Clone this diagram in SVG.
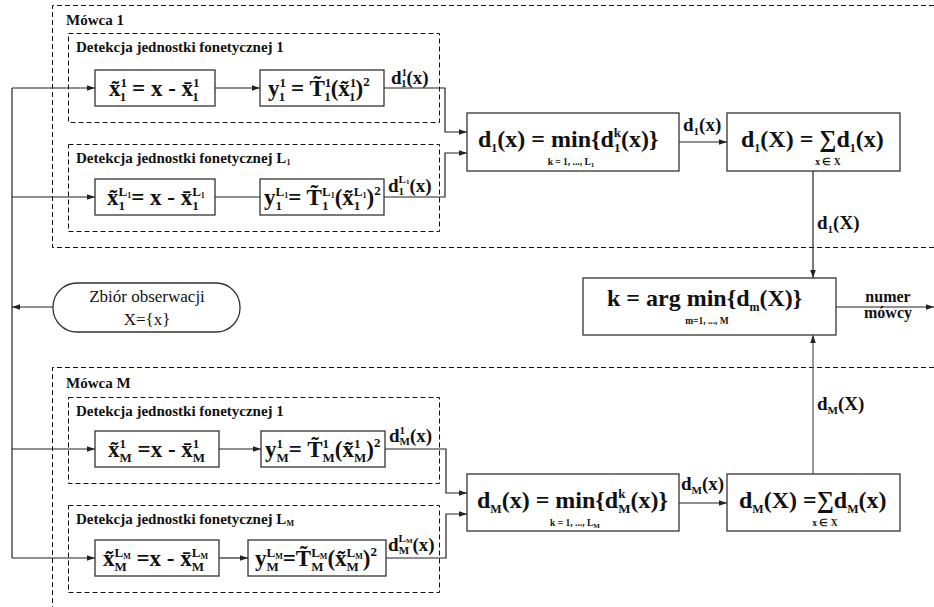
<svg xmlns="http://www.w3.org/2000/svg" width="934" height="607" viewBox="0 0 934 607">
<style>
text{font-family:"Liberation Serif","Times New Roman",serif;font-weight:bold;fill:#111}
.hd{font-size:15px}
.f{font-size:23px}
.F{font-size:24px}
.l{font-size:19px}
.s13{font-size:13px}
.s12{font-size:12px}
.s11{font-size:11px}
.s8{font-size:8px}
.s7{font-size:7px}
.u{font-size:9.5px}
.reg{font-weight:normal;font-size:17px}
.out{font-size:16px}
.box{fill:#fff;stroke:#333;stroke-width:1.3}
.dash{fill:none;stroke:#111;stroke-width:1;stroke-dasharray:5 3}
.c{fill:none;stroke:#222;stroke-width:1.2}
.ca{fill:none;stroke:#222;stroke-width:1.2;marker-end:url(#ah)}
</style>
<defs>
<marker id="ah" viewBox="0 0 10 10" refX="10" refY="5" markerWidth="8" markerHeight="8" markerUnits="userSpaceOnUse" orient="auto"><path d="M0,1.5L10,5L0,8.5z" fill="#222"/></marker>
</defs>

<g id="speaker-1">
<path class="dash" d="M934,5.5H52.5V247.5H934"/>
<text class="hd" x="66" y="25">Mówca 1</text>
</g>
<g id="unit-1-1">
<rect class="dash" x="68.5" y="33.5" width="371" height="89"/>
<text class="hd" x="76" y="52">Detekcja jednostki fonetycznej 1</text>
</g>
<g id="unit-1-L1">
<rect class="dash" x="68.5" y="144.5" width="371" height="87"/>
<text class="hd" x="76" y="163">Detekcja jednostki fonetycznej L<tspan class="s8" dy="2">1</tspan></text>
</g>
<g id="speaker-M">
<path class="dash" d="M934,367.5H52.5V607"/>
<text class="hd" x="66" y="388">Mówca M</text>
</g>
<g id="unit-M-1">
<rect class="dash" x="68.5" y="397.5" width="371" height="86"/>
<text class="hd" x="76" y="416">Detekcja jednostki fonetycznej 1</text>
</g>
<g id="unit-M-LM">
<rect class="dash" x="68.5" y="505.5" width="371" height="87"/>
<text class="hd" x="76" y="524">Detekcja jednostki fonetycznej L<tspan class="s8" dy="2">M</tspan></text>
</g>

<g id="connectors">
<path class="c" d="M12,88V558"/>
<path class="ca" d="M12,88H95"/>
<path class="ca" d="M12,197H95"/>
<path class="ca" d="M12,449H95"/>
<path class="ca" d="M12,558H95"/>
<path class="ca" d="M53,307H12"/>
<path class="ca" d="M215,88H260"/>
<path class="c" d="M215,197H260"/>
<path class="ca" d="M219,449H261"/>
<path class="ca" d="M219,558H248"/>
<path class="ca" d="M384,88H445V132H467"/>
<path class="ca" d="M384,197H445V153H467"/>
<path class="ca" d="M385,449H446V493H467"/>
<path class="ca" d="M386,558H446V514H467"/>
<path class="ca" d="M679,142H727"/>
<path class="ca" d="M679,503H727"/>
<path class="ca" d="M813,171V278"/>
<path class="ca" d="M813,474V335" style="stroke:#555"/>
<path class="ca" d="M836,307H934"/>
<text class="l" x="683" y="131">d<tspan class="s11" dy="4">1</tspan><tspan dy="-4">(x)</tspan></text>
<text class="l" x="681" y="490">d<tspan class="s11" dy="4">M</tspan><tspan dy="-4">(x)</tspan></text>
<text class="l" x="817" y="229">d<tspan class="s11" dy="4">1</tspan><tspan dy="-4">(X)</tspan></text>
<text class="l" x="817" y="410">d<tspan class="s11" dy="4">M</tspan><tspan dy="-4">(X)</tspan></text>
<text class="l" x="391" y="84">d<tspan class="s11" dy="-8">1</tspan><tspan class="s11" dx="-5.5" dy="11">1</tspan><tspan dy="-3">(x)</tspan></text>
<text class="l" x="388" y="192">d<tspan class="s11" dy="-9">L</tspan><tspan class="s7" dy="0.5">1</tspan><tspan class="s11" dx="-10.8" dy="11.5">1</tspan><tspan dx="5.3" dy="-3">(x)</tspan></text>
<text class="l" x="389" y="442">d<tspan class="s11" dy="-8">1</tspan><tspan class="s11" dx="-5.5" dy="11">M</tspan><tspan dy="-3">(x)</tspan></text>
<text class="l" x="388" y="551">d<tspan class="s11" dy="-9">L</tspan><tspan class="s7" dy="0.5">M</tspan><tspan class="s11" dx="-13.9" dy="11.5">M</tspan><tspan dx="3.5" dy="-3">(x)</tspan></text>
<text class="out" x="888" y="302" text-anchor="middle">numer</text>
<text class="out" x="888" y="318" text-anchor="middle">mówcy</text>
</g>

<g id="obs">
<rect class="box" x="53" y="283" width="187" height="49" rx="24" ry="24"/>
<text class="reg" x="147" y="302" text-anchor="middle">Zbiór obserwacji</text>
<text class="reg" x="147" y="325" text-anchor="middle">X={x}</text>
</g>

<g id="n-x-1-1">
<rect class="box" x="95" y="70" width="120" height="36"/>
<text class="f" x="109" y="96">x&#x303;<tspan class="s13" dy="-9.5">1</tspan><tspan class="s13" dx="-6.5" dy="14.5">1</tspan><tspan dy="-5"> = x - x&#x304;</tspan><tspan class="s13" dy="-9.5">1</tspan><tspan class="s13" dx="-6.5" dy="14.5">1</tspan></text>
</g>
<g id="n-y-1-1">
<rect class="box" x="260" y="70" width="124" height="36"/>
<text class="f" x="268" y="96">y<tspan class="s13" dy="-9.5">1</tspan><tspan class="s13" dx="-6.5" dy="14.5">1</tspan><tspan dy="-5"> = T&#x303;</tspan><tspan class="s13" dy="-9.5">1</tspan><tspan class="s13" dx="-6.5" dy="14.5">1</tspan><tspan dy="-5">(x&#x303;</tspan><tspan class="s13" dy="-9.5">1</tspan><tspan class="s13" dx="-6.5" dy="14.5">1</tspan><tspan dy="-5">)</tspan><tspan class="s13" dy="-10">2</tspan></text>
</g>
<g id="n-x-1-L1">
<rect class="box" x="95" y="179" width="120" height="36"/>
<text class="f" x="107" y="205">x&#x303;<tspan class="s13" dy="-9.5">L</tspan><tspan class="s8" dy="2">1</tspan><tspan class="s13" dx="-12.7" dy="12.5">1</tspan><tspan dx="6.2" dy="-5">= x - x&#x304;</tspan><tspan class="s13" dy="-9.5">L</tspan><tspan class="s8" dy="2">1</tspan><tspan class="s13" dx="-12.7" dy="12.5">1</tspan></text>
</g>
<g id="n-y-1-L1">
<rect class="box" x="260" y="179" width="124" height="36"/>
<text class="f" x="264" y="205">y<tspan class="s13" dy="-9.5">L</tspan><tspan class="s8" dy="2">1</tspan><tspan class="s13" dx="-12.7" dy="12.5">1</tspan><tspan dx="6.2" dy="-5">= T&#x303;</tspan><tspan class="s13" dy="-9.5">L</tspan><tspan class="s8" dy="2">1</tspan><tspan class="s13" dx="-12.7" dy="12.5">1</tspan><tspan dx="6.2" dy="-5">(x&#x303;</tspan><tspan class="s13" dy="-9.5">L</tspan><tspan class="s8" dy="2">1</tspan><tspan class="s13" dx="-12.7" dy="12.5">1</tspan><tspan dx="6.2" dy="-5">)</tspan><tspan class="s13" dy="-10">2</tspan></text>
</g>
<g id="n-x-M-1">
<rect class="box" x="95" y="431" width="124" height="36"/>
<text class="f" x="108" y="457">x&#x303;<tspan class="s13" dy="-9.5">1</tspan><tspan class="s13" dx="-6.5" dy="14.5">M</tspan><tspan dy="-5"> =x - x&#x304;</tspan><tspan class="s13" dy="-9.5">1</tspan><tspan class="s13" dx="-6.5" dy="14.5">M</tspan></text>
</g>
<g id="n-y-M-1">
<rect class="box" x="261" y="431" width="124" height="36"/>
<text class="f" x="265" y="457">y<tspan class="s13" dy="-9.5">1</tspan><tspan class="s13" dx="-6.5" dy="14.5">M</tspan><tspan dy="-5">= T&#x303;</tspan><tspan class="s13" dy="-9.5">1</tspan><tspan class="s13" dx="-6.5" dy="14.5">M</tspan><tspan dy="-5">(x&#x303;</tspan><tspan class="s13" dy="-9.5">1</tspan><tspan class="s13" dx="-6.5" dy="14.5">M</tspan><tspan dy="-5">)</tspan><tspan class="s13" dy="-10">2</tspan></text>
</g>
<g id="n-x-M-LM">
<rect class="box" x="95" y="540" width="124" height="36"/>
<text class="f" x="103" y="566">x&#x303;<tspan class="s13" dy="-9.5">L</tspan><tspan class="s8" dy="2">M</tspan><tspan class="s13" dx="-16.2" dy="12.5">M</tspan><tspan dx="3.9" dy="-5"> =x - x&#x304;</tspan><tspan class="s13" dy="-9.5">L</tspan><tspan class="s8" dy="2">M</tspan><tspan class="s13" dx="-16.2" dy="12.5">M</tspan></text>
</g>
<g id="n-y-M-LM">
<rect class="box" x="248" y="540" width="138" height="36"/>
<text class="f" x="255" y="566">y<tspan class="s13" dy="-9.5">L</tspan><tspan class="s8" dy="2">M</tspan><tspan class="s13" dx="-16.2" dy="12.5">M</tspan><tspan dx="3.9" dy="-5">=T&#x303;</tspan><tspan class="s13" dy="-9.5">L</tspan><tspan class="s8" dy="2">M</tspan><tspan class="s13" dx="-16.2" dy="12.5">M</tspan><tspan dx="3.9" dy="-5">(x&#x303;</tspan><tspan class="s13" dy="-9.5">L</tspan><tspan class="s8" dy="2">M</tspan><tspan class="s13" dx="-16.2" dy="12.5">M</tspan><tspan dx="3.9" dy="-5">)</tspan><tspan class="s13" dy="-10">2</tspan></text>
</g>

<g id="n-min-1">
<rect class="box" x="467" y="113" width="212" height="58"/>
<text class="F" x="478" y="147">d<tspan class="s12" dy="5">1</tspan><tspan dy="-5">(x) = min{d</tspan><tspan class="s13" dy="-10">k</tspan><tspan class="s13" dx="-7.2" dy="15">1</tspan><tspan dx="0.7" dy="-5">(x)}</tspan></text>
<text class="u" x="571" y="165" text-anchor="middle">k = 1, ..., L<tspan class="s7" dy="2">1</tspan></text>
</g>
<g id="n-sum-1">
<rect class="box" x="727" y="113" width="173" height="58"/>
<text class="F" x="741" y="147">d<tspan class="s12" dy="5">1</tspan><tspan dy="-5">(X) = ∑d</tspan><tspan class="s12" dy="5">1</tspan><tspan dy="-5">(x)</tspan></text>
<text class="u" x="828" y="165" text-anchor="middle">x ∈ X</text>
</g>
<g id="n-argmin">
<rect class="box" x="583" y="278" width="253" height="57"/>
<text class="F" x="607" y="306">k = arg min{d<tspan class="s12" dy="5">m</tspan><tspan dy="-5">(X)}</tspan></text>
<text class="u" x="707" y="324" text-anchor="middle">m=1, ..., M</text>
</g>
<g id="n-min-M">
<rect class="box" x="467" y="474" width="212" height="57"/>
<text class="F" x="477" y="508">d<tspan class="s12" dy="5">M</tspan><tspan dy="-5">(x) = min{d</tspan><tspan class="s13" dy="-10">k</tspan><tspan class="s13" dx="-7.2" dy="15">M</tspan><tspan dy="-5">(x)}</tspan></text>
<text class="u" x="575" y="526" text-anchor="middle">k = 1, ..., L<tspan class="s7" dy="2">M</tspan></text>
</g>
<g id="n-sum-M">
<rect class="box" x="727" y="474" width="173" height="57"/>
<text class="F" x="739" y="508">d<tspan class="s12" dy="5">M</tspan><tspan dy="-5">(X) =∑d</tspan><tspan class="s12" dy="5">M</tspan><tspan dy="-5">(x)</tspan></text>
<text class="u" x="825" y="526" text-anchor="middle">x ∈ X</text>
</g>
</svg>
